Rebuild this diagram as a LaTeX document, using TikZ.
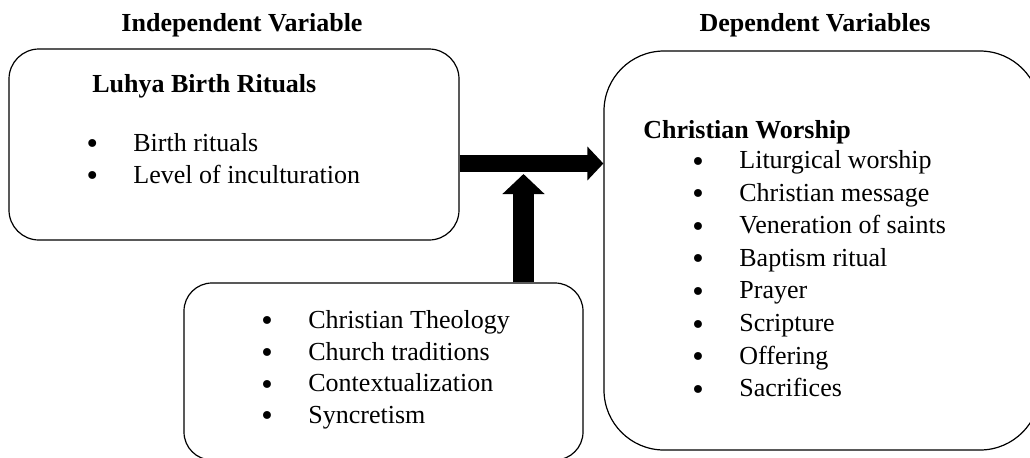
\documentclass[tikz,border=0pt]{standalone}
\usepackage{fontspec}
\setmainfont{Liberation Serif}
\newfontfamily\bulletfont{DejaVu Sans}
\usepackage{tikz}
\usetikzlibrary{arrows.meta}

\tikzset{
    box/.style={draw, line width=0.6pt, inner sep=0pt},
    heading/.style={font=\fontsize{13}{16}\selectfont\bfseries, anchor=base, inner sep=0pt},
    boxhead/.style={font=\fontsize{13}{16}\selectfont\bfseries, anchor=base west, inner sep=0pt},
    entry/.style={font=\fontsize{13}{16}\selectfont, anchor=base west, inner sep=0pt},
    bulletmark/.style={font=\bulletfont\fontsize{13.5}{16}\selectfont, anchor=base west, inner sep=0pt},
    fatarrow/.style={line width=#1},
}

\begin{document}
\begin{tikzpicture}[x=0.5pt, y=-0.5pt]
            %\draw[help lines] (0,0) grid[step=50] (1030,457);
            \useasboundingbox (0,0) rectangle (1030,457);

            \node[heading] (indeptitle) at (242,31) {Independent Variable};
            \node[heading] (deptitle) at (815,31) {Dependent Variables};

            \node[box, rounded corners=15pt, minimum width=225pt, minimum height=95.5pt] (indep) at (234,144.5) {};
            \node[box, rounded corners=30pt, minimum width=218pt, minimum height=199.5pt] (dep) at (822,250.5) {};
            \node[box, rounded corners=14pt, minimum width=199.5pt, minimum height=88.5pt] (mod) at (383.5,371.5) {};

            \node[boxhead] (indephead) at (92,92) {Luhya Birth Rituals};
            \foreach \txt [count=\i] in {Birth rituals, Level of inculturation}
            {
                \node[bulletmark] (indepdot\i) at (84,121.5+32*\i) {•};
                \node[entry] (indepitem\i) at (133,119+32*\i) {\txt};
            }

            \node[boxhead] (dephead) at (643,138) {Christian Worship};
            \foreach \txt [count=\i] in {Liturgical worship, Christian message, Veneration of saints, Baptism ritual, Prayer, Scripture, Offering, Sacrifices}
            {
                \node[bulletmark] (depdot\i) at (689.7,138.4+32.6*\i) {•};
                \node[entry] (depitem\i) at (739,135.9+32.6*\i) {\txt};
            }

            \foreach \txt [count=\i] in {Christian Theology, Church traditions, Contextualization, Syncretism}
            {
                \node[bulletmark] (moddot\i) at (258.7,299.1+31.7*\i) {•};
                \node[entry] (moditem\i) at (308,296.6+31.7*\i) {\txt};
            }

            \coordinate (hstart) at ([yshift=-9.5pt]indep.east);
            \coordinate (meet) at (523.5,174);
            \draw[fatarrow=8.5pt, -{Triangle[length=8pt, width=16.5pt]}] (hstart) -- (hstart -| dep.west);
            \draw[fatarrow=10.5pt, -{Triangle[length=10pt, width=20.5pt]}] ([xshift=70pt]mod.north) -- (meet);
\end{tikzpicture}
\end{document}
